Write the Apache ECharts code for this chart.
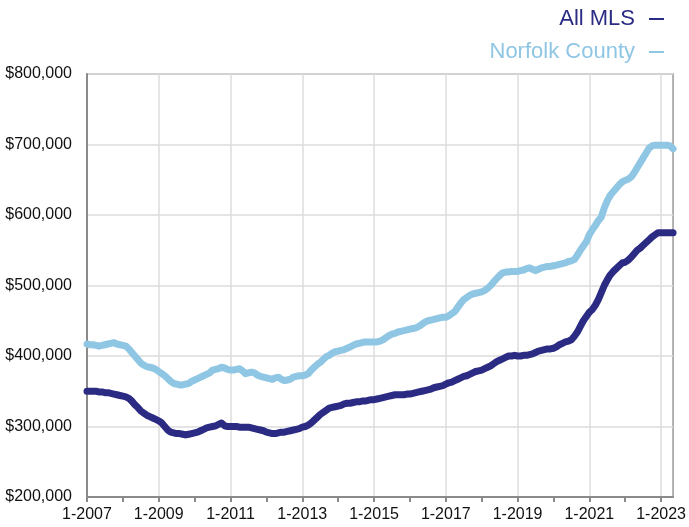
<!DOCTYPE html>
<html>
<head>
<meta charset="utf-8">
<script src="https://cdn.jsdelivr.net/npm/echarts@6/dist/echarts.min.js"></script>
<style>
  html, body { margin: 0; padding: 0; background: #fff; }
  #chart { width: 689px; height: 527px; }
</style>
</head>
<body>
<div id="chart"></div>
<script>
// median price, monthly, 1-2007 .. 5-2023
var startYear = 2007;
var monthCount = 197;

var allMls = [
  350000, 350000, 350000, 350000, 349000, 349000, 348000, 348000, 347000, 346000, 345000, 344000, // 2007
  343000, 342000, 340000, 336000, 331000, 327000, 322000, 319000, 316000, 314000, 312000, 310000, // 2008
  308000, 305000, 300000, 295000, 292000, 291000, 290000, 290000, 289000, 288000, 289000, 290000, // 2009
  291000, 292000, 294000, 296000, 298000, 299000, 300000, 301000, 303000, 305000, 301000, 300000, // 2010
  300000, 300000, 300000, 299000, 299000, 299000, 299000, 298000, 297000, 296000, 295000, 294000, // 2011
  292000, 291000, 290000, 290000, 291000, 292000, 292000, 293000, 294000, 295000, 296000, 297000, // 2012
  299000, 300000, 302000, 305000, 309000, 313000, 317000, 320000, 323000, 326000, 327000, 328000, // 2013
  329000, 330000, 332000, 333000, 333000, 334000, 335000, 335000, 336000, 336000, 337000, 338000, // 2014
  338000, 339000, 340000, 341000, 342000, 343000, 344000, 345000, 345000, 345000, 345000, 346000, // 2015
  346000, 347000, 348000, 349000, 350000, 351000, 352000, 353000, 355000, 356000, 357000, 358000, // 2016
  360000, 362000, 363000, 365000, 367000, 369000, 371000, 372000, 374000, 376000, 378000, 379000, // 2017
  380000, 382000, 384000, 386000, 389000, 392000, 394000, 396000, 398000, 400000, 400000, 401000, // 2018
  400000, 400000, 401000, 401000, 402000, 403000, 405000, 407000, 408000, 409000, 410000, 410000, // 2019
  411000, 413000, 416000, 418000, 420000, 421000, 423000, 428000, 434000, 442000, 450000, 456000, // 2020
  462000, 466000, 472000, 480000, 490000, 500000, 508000, 515000, 520000, 524000, 528000, 532000, // 2021
  533000, 536000, 540000, 545000, 550000, 553000, 557000, 561000, 565000, 569000, 572000, 575000, // 2022
  575000, 575000, 575000, 575000, 575000                                                          // 2023
];

var norfolk = [
  417000, 416000, 416000, 415000, 414000, 415000, 416000, 417000, 418000, 419000, 417000, 416000, // 2007
  415000, 414000, 410000, 405000, 400000, 395000, 390000, 387000, 385000, 384000, 383000, 381000, // 2008
  378000, 375000, 372000, 368000, 364000, 361000, 360000, 359000, 359000, 360000, 361000, 364000, // 2009
  366000, 368000, 370000, 372000, 374000, 376000, 380000, 381000, 382000, 384000, 383000, 381000, // 2010
  380000, 380000, 381000, 382000, 379000, 375000, 376000, 377000, 376000, 373000, 371000, 370000, // 2011
  369000, 368000, 367000, 369000, 370000, 367000, 365000, 366000, 367000, 370000, 371000, 372000, // 2012
  372000, 373000, 375000, 380000, 384000, 388000, 391000, 395000, 399000, 401000, 404000, 406000, // 2013
  407000, 408000, 409000, 411000, 413000, 415000, 417000, 418000, 419000, 420000, 420000, 420000, // 2014
  420000, 420000, 421000, 423000, 426000, 429000, 431000, 432000, 434000, 435000, 436000, 437000, // 2015
  438000, 439000, 440000, 442000, 445000, 448000, 450000, 451000, 452000, 453000, 454000, 455000, // 2016
  455000, 457000, 460000, 463000, 469000, 475000, 480000, 483000, 486000, 488000, 489000, 490000, // 2017
  491000, 493000, 496000, 500000, 505000, 510000, 514000, 518000, 519000, 519000, 520000, 520000, // 2018
  520000, 521000, 522000, 524000, 525000, 523000, 521000, 523000, 525000, 526000, 527000, 527000, // 2019
  528000, 529000, 530000, 531000, 532000, 534000, 535000, 537000, 543000, 550000, 556000, 562000, // 2020
  572000, 579000, 585000, 592000, 597000, 610000, 620000, 628000, 633000, 638000, 643000, 647000, // 2021
  649000, 651000, 654000, 660000, 667000, 674000, 681000, 688000, 695000, 698000, 699000, 699000, // 2022
  699000, 699000, 699000, 698000, 694000                                                          // 2023
];

var seriesNames = ['All MLS', 'Norfolk County'];
var seriesColors = ['#2b2b84', '#8fc6e3'];

// month labels like "1-2007"
var months = [];
for (var i = 0; i < monthCount; i++) {
  months.push((i % 12 + 1) + '-' + (startYear + Math.floor(i / 12)));
}

function money(v) {
  return '$' + String(v).replace(/\B(?=(\d{3})+(?!\d))/g, ',');
}

var font = 'Liberation Sans, Arial, Helvetica, sans-serif';
var myChart = echarts.init(document.getElementById('chart'));

myChart.setOption({
  backgroundColor: '#fff',
  animation: false,
  textStyle: { fontFamily: font },
  legend: {
    orient: 'vertical',
    right: 20,
    top: 3,
    align: 'right',
    itemWidth: 15,
    itemHeight: 2,
    itemGap: 11,
    icon: 'rect',
    data: [
      { name: seriesNames[0], textStyle: { color: seriesColors[0] } },
      { name: seriesNames[1], textStyle: { color: seriesColors[1] } }
    ],
    textStyle: { fontSize: 22, fontFamily: font, padding: [0, 9, 0, 0] }
  },
  grid: {
    left: 87, right: 12, top: 74, bottom: 30,
    show: true,
    borderColor: '#9a9a9a',
    borderWidth: 1.5
  },
  xAxis: {
    type: 'category',
    boundaryGap: false,
    data: months,
    axisLine: { lineStyle: { color: '#8a8a8a', width: 2 } },
    axisTick: {
      length: 5,
      lineStyle: { color: '#8a8a8a', width: 2 },
      interval: function (idx) { return idx % 12 === 0; }
    },
    axisLabel: {
      color: '#111',
      fontSize: 16,
      margin: 10,
      interval: function (idx) { return idx % 24 === 0; }
    },
    splitLine: {
      show: true,
      lineStyle: { color: '#dcdcdc', width: 1.5 },
      interval: function (idx) { return idx % 24 === 0; }
    }
  },
  yAxis: {
    type: 'value',
    min: 200000,
    max: 800000,
    interval: 100000,
    axisLine: { show: true, lineStyle: { color: '#8a8a8a', width: 2 } },
    axisTick: { show: false },
    axisLabel: { color: '#111', fontSize: 16, margin: 15, formatter: money },
    splitLine: { lineStyle: { color: '#dcdcdc', width: 1.5 } }
  },
  series: [
    {
      name: seriesNames[0],
      type: 'line',
      data: allMls,
      showSymbol: false,
      symbol: 'none',
      color: seriesColors[0],
      lineStyle: { width: 7, color: seriesColors[0], join: 'round', cap: 'round' }
    },
    {
      name: seriesNames[1],
      type: 'line',
      data: norfolk,
      showSymbol: false,
      symbol: 'none',
      color: seriesColors[1],
      lineStyle: { width: 7, color: seriesColors[1], join: 'round', cap: 'round' }
    }
  ]
});
</script>
</body>
</html>
